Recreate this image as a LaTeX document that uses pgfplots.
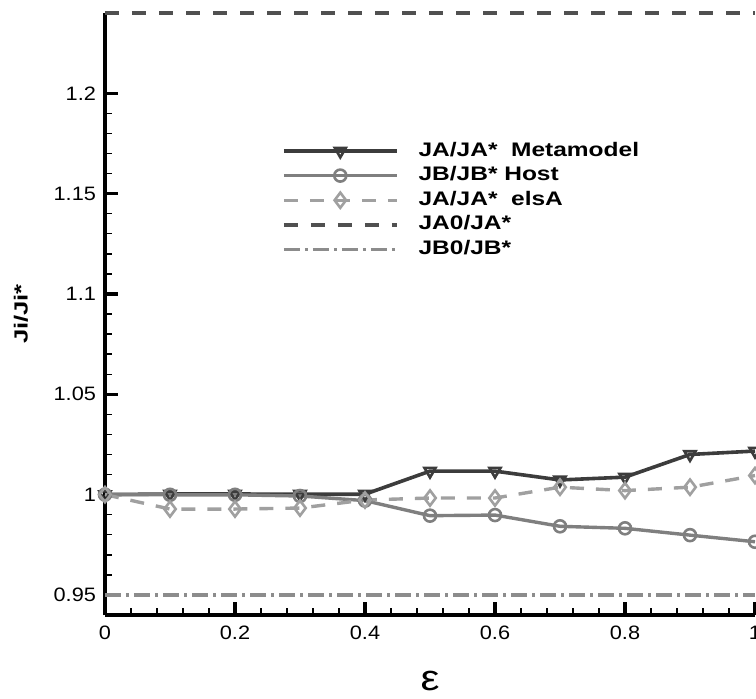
\documentclass[border=0pt]{standalone}
\usepackage{fontspec}
\setmainfont{Liberation Sans}
\newfontfamily\legfont[FakeStretch=1.25]{Liberation Sans}
\newfontfamily\epsfont[FakeStretch=1.18]{Liberation Sans}
\newfontfamily\tickfont[FakeStretch=1.12]{Liberation Sans}
\newfontfamily\ylabfont[FakeStretch=1.35]{Liberation Sans}
\usepackage{pgfplots}
\pgfplotsset{compat=1.18}
\definecolor{cMeta}{HTML}{3C3C3C}
\definecolor{cHost}{HTML}{7F7F7F}
\definecolor{cElsA}{HTML}{A0A0A0}
\definecolor{cJA}{HTML}{505050}
\definecolor{cJB}{HTML}{8C8C8C}
\begin{document}
\begin{tikzpicture}
\begin{axis}[
  at={(0pt,0pt)}, anchor=south west,
  scale only axis, width=325pt, height=301pt,
  xmin=0, xmax=1, ymin=0.94, ymax=1.24,
  axis x line*=bottom, axis y line*=left,
  axis line style={line width=1.9pt, black},
  xtick={0,0.2,0.4,0.6,0.8,1},
  ytick={0.95,1,1.05,1.1,1.15,1.2},
  minor x tick num=4, minor y tick num=4,
  major tick length=6.5pt, minor tick length=3.5pt,
  every major tick/.style={line width=1.7pt, black},
  every minor tick/.style={line width=0.7pt, black},
  tick align=inside,
  ticklabel style={font=\tickfont\fontsize{9.7}{11}\selectfont},
  /pgf/number format/assume math mode=true,
  xticklabel style={yshift=-2pt},
  yticklabel style={xshift=-1pt},
  clip=false,
  legend style={at={(0.2723,0.7857)}, anchor=north west, draw=none, fill=none,
    inner sep=0pt, outer sep=0pt, row sep=3.3pt, column sep=10pt,
    font=\legfont\bfseries\fontsize{9.8}{11}\selectfont,
    nodes={inner xsep=0pt, inner ysep=0pt, text height=7pt, text depth=2pt},
    cells={anchor=west}},
  legend image code/.code={\draw[mark repeat=2,mark phase=2,#1] plot coordinates {(0pt,0pt) (28.25pt,0pt) (56.5pt,0pt)};},
]
\addplot[color=cMeta, line width=1.8pt, mark=triangle, mark size=3.2pt,
  mark options={rotate=180, solid, fill=white, line width=1.3pt}] coordinates {
  (0,1.0) (0.1,1.0003) (0.2,1.0003) (0.3,1.0002) (0.4,1.0002) (0.5,1.0117)
  (0.6,1.0117) (0.7,1.0073) (0.8,1.0087) (0.9,1.0200) (1.0,1.0217)};
\addlegendentry{JA/JA*\ \ Metamodel}
\addplot[color=cHost, line width=1.7pt, mark=o, mark size=3pt,
  mark options={solid, fill=white, line width=1.3pt}] coordinates {
  (0,1.0) (0.1,0.9999) (0.2,0.9999) (0.3,0.9993) (0.4,0.9970) (0.5,0.9895)
  (0.6,0.9898) (0.7,0.9842) (0.8,0.9832) (0.9,0.9798) (1.0,0.9765)};
\addlegendentry{JB/JB* Host}
\addplot[color=cElsA, line width=1.7pt, dash pattern=on 7pt off 6pt, mark=diamond, mark size=3.8pt,
  mark options={solid, fill=white, line width=1.3pt}] coordinates {
  (0,1.0) (0.1,0.9928) (0.2,0.9928) (0.3,0.9933) (0.4,0.9973) (0.5,0.9983)
  (0.6,0.9983) (0.7,1.0037) (0.8,1.0020) (0.9,1.0037) (1.0,1.0095)};
\addlegendentry{JA/JA*\ \ elsA}
\addplot[color=cJA, line width=1.7pt, dash pattern=on 7pt off 6.5pt] coordinates {
  (0,1.24) (1,1.24)};
\addlegendentry{JA0/JA*}
\addplot[color=cJB, line width=1.7pt, dash pattern=on 8pt off 2.5pt on 1.5pt off 2.5pt] coordinates {
  (0,0.95) (1,0.95)};
\addlegendentry{JB0/JB*}
\end{axis}
\node[rotate=90, anchor=center, inner sep=0pt, font=\ylabfont\bfseries\fontsize{9.5}{11}\selectfont] at (-42pt,150.5pt) {Ji/Ji*};
\node[anchor=center, inner sep=0pt, font=\epsfont\fontsize{18}{20}\selectfont] at (162.5pt,-33pt) {ε};
\pgfresetboundingbox
\path (-52.5pt,-41.5pt) rectangle (325.5pt,307.5pt);
\end{tikzpicture}
\end{document}
